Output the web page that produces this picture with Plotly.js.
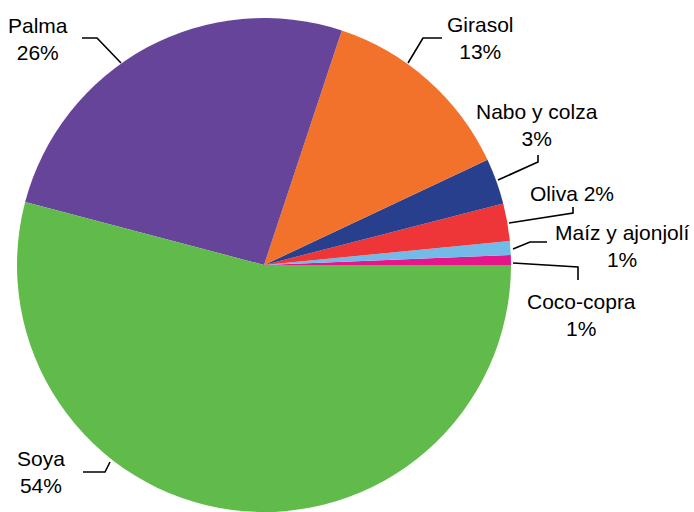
<!DOCTYPE html>
<html>
<head>
<meta charset="utf-8">
<script src="https://cdn.plot.ly/plotly-3.0.1.min.js"></script>
<style>html,body{margin:0;padding:0;overflow:hidden;background:#fff;}#chart{width:694px;height:512px;}</style>
</head>
<body>
<div id="chart"></div>
<script>
// Data (shares of world vegetable oil, %)
const labels = ["Coco-copra", "Maíz y ajonjolí", "Oliva", "Nabo y colza", "Girasol", "Palma", "Soya"];
const values = [0.65, 0.9, 2.45, 3.0, 12.9, 26.0, 54.1];
const colors = ["#E6168A", "#72BBE9", "#EE3537", "#283F8E", "#F2722C", "#66449A", "#60BB4B"];

const W = 694, H = 512;
const total = values.reduce((a, b) => a + b, 0);
const pct = values.map(v => Math.round(v / total * 100) + "%");

// label placement (pixel centres) and leader-line paths (pixels)
const labelPos = {
  "Palma": {x: 38, y: 39, one: false},
  "Girasol": {x: 480, y: 38, one: false},
  "Nabo y colza": {x: 537, y: 125, one: false},
  "Oliva": {x: 572, y: 193, one: true},
  "Maíz y ajonjolí": {x: 622, y: 246, one: false},
  "Coco-copra": {x: 581, y: 315, one: false},
  "Soya": {x: 41, y: 472, one: false}
};
const leaders = [
  [[82,38],[97,38],[121,63]],
  [[442,38],[423,38],[408,63]],
  [[538,155],[538,162],[498,180]],
  [[573,207],[573,213],[509,223]],
  [[547,242],[530,242],[513,249]],
  [[513,263],[578,267],[578,280]],
  [[83,472],[105,472],[110,462]]
];

const px = x => x / W, py = y => 1 - y / H;

const annotations = labels.map((l, i) => {
  const p = labelPos[l];
  return {
    xref: "paper", yref: "paper", x: px(p.x), y: py(p.y),
    xanchor: "center", yanchor: "middle", showarrow: false,
    text: p.one ? (l + " " + pct[i]) : (l + "<br>" + pct[i]),
    font: {family: "Liberation Sans, Arial, sans-serif", size: 21, color: "#000"},
    align: "center"
  };
});

const shapes = leaders.map(pts => ({
  type: "path", xref: "paper", yref: "paper",
  path: pts.map((p, k) => (k ? "L" : "M") + px(p[0]) + "," + py(p[1])).join(" "),
  line: {color: "#000", width: 1.6}
}));

// In counterclockwise mode Plotly ends the first slice at the rotation angle,
// so shift by the first slice to make it start at 3 o'clock.
const rotation = 90 - 360 * values[0] / total;

const trace = {
  type: "pie",
  labels: labels,
  values: values,
  sort: false,
  direction: "counterclockwise",
  rotation: rotation,
  textinfo: "none",
  hoverinfo: "label+percent",
  marker: {colors: colors, line: {width: 0}},
  domain: {x: [17 / W, 511 / W], y: [0, 494 / H]}
};

Plotly.newPlot("chart", [trace], {
  width: W, height: H,
  margin: {l: 0, r: 0, t: 0, b: 0},
  showlegend: false,
  paper_bgcolor: "#fff",
  annotations: annotations,
  shapes: shapes
}, {displayModeBar: false, staticPlot: true});
</script>
</body>
</html>
